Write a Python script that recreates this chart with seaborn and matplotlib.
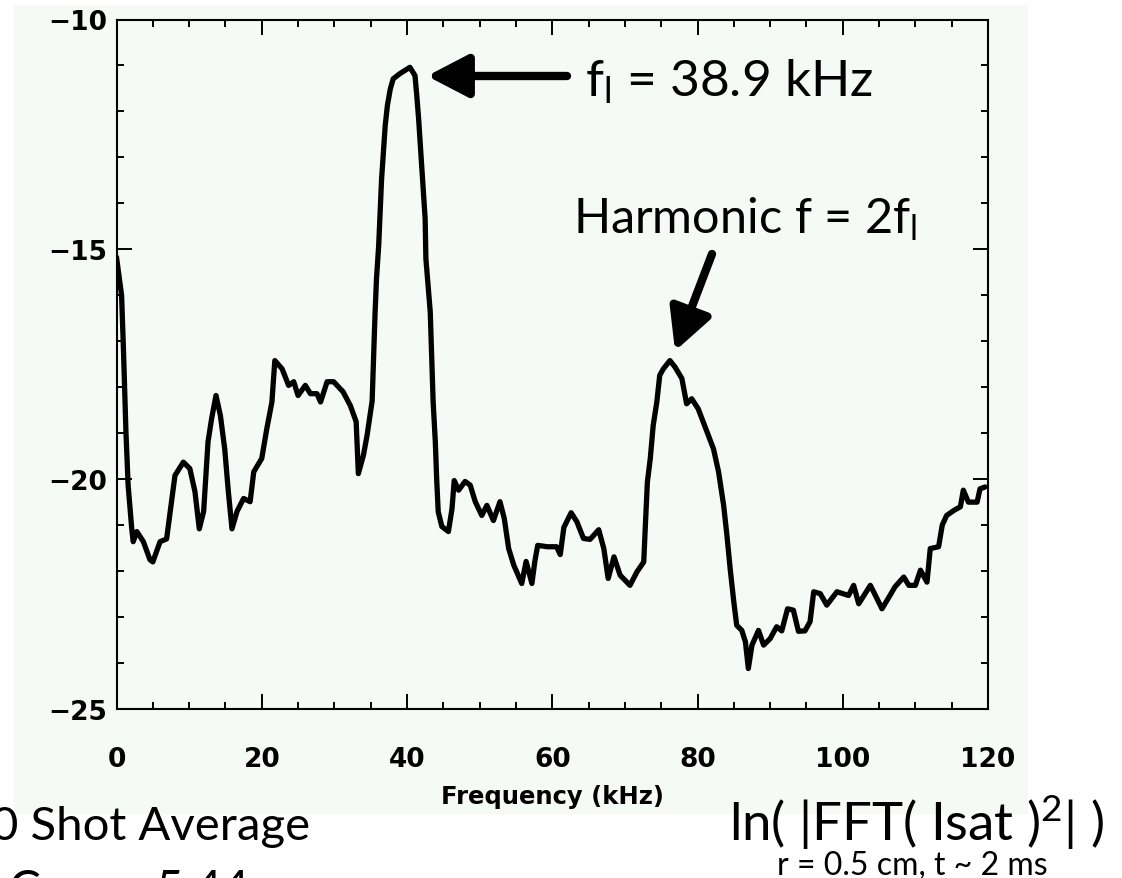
import matplotlib
matplotlib.use("Agg")
import matplotlib.pyplot as plt
import seaborn as sns
import pandas as pd
from matplotlib.patches import Rectangle, FancyArrowPatch
from matplotlib.ticker import MultipleLocator

# ---------------- data ----------------
freq_khz = [0.0, 0.7, 0.94, 1.3, 1.6, 2.1, 2.3, 2.8, 3.7, 4.6, 5.0, 6.0, 6.9, 7.4, 8.05,
            9.2, 10.1, 10.8, 11.4, 12.0, 12.6, 13.1, 13.7, 14.3, 14.9, 15.4, 15.9, 16.6,
            17.5, 18.4, 18.9, 20.0, 20.7, 21.4, 21.8, 22.8, 23.7, 24.4, 25.0, 26.0, 26.7,
            27.6, 28.1, 29.0, 29.9, 31.2, 32.2, 33.0, 33.3, 34.0, 34.5, 35.2, 35.6, 35.8,
            36.1, 36.3, 36.5, 36.75, 37.0, 37.3, 37.7, 38.1, 39.0, 40.0, 40.4, 41.1, 41.35,
            41.6, 41.9, 42.2, 42.5, 42.6, 42.9, 43.2, 43.4, 43.6, 43.9, 44.1, 44.3, 44.8,
            45.7, 46.2, 46.5, 47.1, 48.0, 48.7, 49.4, 50.3, 51.0, 51.9, 52.8, 53.4, 54.0,
            54.7, 55.8, 56.4, 57.2, 57.6, 58.0, 59.3, 60.6, 61.1, 61.6, 62.6, 63.4, 64.3,
            65.2, 66.4, 67.1, 67.7, 68.5, 69.35, 70.7, 71.65, 72.6, 72.8, 73.1, 73.5, 73.9,
            74.4, 74.8, 75.3, 76.2, 76.9, 77.85, 78.5, 79.2, 80.1, 81.3, 82.2, 82.9, 83.6,
            84.05, 84.5, 85.0, 85.4, 86.1, 86.6, 87.0, 87.5, 88.4, 89.1, 90.0, 90.9, 91.6,
            92.4, 93.2, 93.9, 94.8, 95.5, 96.0, 96.9, 97.8, 99.2, 100.8, 101.5, 102.2,
            103.8, 104.5, 105.4, 106.5, 107.2, 108.4, 109.1, 110.0, 110.7, 111.6, 112.05,
            113.2, 113.7, 114.3, 115.3, 116.2, 116.6, 117.3, 118.5, 118.9, 119.6]
ln_power = [-15.17, -16.0, -17.09, -18.97, -20.13, -21.08, -21.36, -21.14, -21.36, -21.75,
            -21.8, -21.36, -21.3, -20.7, -19.92, -19.63, -19.77, -20.27, -21.08, -20.7,
            -19.19, -18.68, -18.18, -18.61, -19.34, -20.27, -21.08, -20.7, -20.42, -20.49,
            -19.84, -19.55, -18.9, -18.32, -17.42, -17.6, -17.96, -17.88, -18.18, -17.96,
            -18.14, -18.14, -18.32, -17.88, -17.88, -18.1, -18.4, -18.75, -19.88, -19.48,
            -19.05, -18.3, -16.4, -15.64, -14.92, -14.19, -13.47, -12.89, -12.31, -11.87,
            -11.51, -11.29, -11.18, -11.08, -11.04, -11.22, -11.66, -12.16, -12.89, -13.61,
            -14.34, -15.2, -15.79, -16.36, -17.31, -18.32, -19.19, -20.05, -20.71, -21.03,
            -21.14, -20.64, -20.03, -20.24, -20.05, -20.13, -20.49, -20.79, -20.57, -20.9,
            -20.49, -20.86, -21.51, -21.87, -22.27, -21.79, -22.27, -21.79, -21.44, -21.47,
            -21.47, -21.64, -21.05, -20.73, -20.93, -21.29, -21.31, -21.1, -21.51, -22.16,
            -21.69, -22.09, -22.31, -22.02, -21.8, -21.08, -20.06, -19.55, -18.83, -18.32,
            -17.74, -17.6, -17.42, -17.56, -17.81, -18.36, -18.25, -18.47, -18.97, -19.34,
            -19.84, -20.57, -21.22, -21.95, -22.67, -23.18, -23.29, -23.54, -24.12, -23.61,
            -23.29, -23.61, -23.47, -23.21, -23.3, -22.82, -22.85, -23.31, -23.3, -23.1,
            -22.45, -22.49, -22.74, -22.45, -22.53, -22.31, -22.71, -22.31, -22.53, -22.82,
            -22.53, -22.34, -22.13, -22.31, -22.31, -21.98, -22.24, -21.51, -21.47, -21.0,
            -20.79, -20.68, -20.6, -20.24, -20.5, -20.5, -20.21, -20.17]

x_ticks = [0, 20, 40, 60, 80, 100, 120]
y_ticks = [-25, -20, -15, -10]
x_label = "Frequency (kHz)"
peak_text = r"f$_{\mathrm{l}}$ = 38.9 kHz"
harm_text = r"Harmonic f = 2f$_{\mathrm{l}}$"
quantity_text = r"ln( |FFT( Isat )$^{\mathrm{2}}$| )"
cond_text = "r = 0.5 cm, t ~ 2 ms"
avg_text = "0 Shot Average"
len_text = "rC  =  = 5.44 m"

# ---------------- figure ----------------
W, H = 1122, 879
sns.set_theme(style="ticks")
plt.rcParams["font.family"] = ["DejaVu Sans"]
plt.rcParams["mathtext.fontset"] = "custom"
plt.rcParams["mathtext.rm"] = "Lato"
plt.rcParams["mathtext.it"] = "Lato:italic"
plt.rcParams["mathtext.bf"] = "Lato:bold"

panel = "#f5faf6"
fig = plt.figure(figsize=(W / 100, H / 100), dpi=100, facecolor="white")


def fx(x):
    return x / W


def fy(y):
    return 1 - y / H


bg = Rectangle((fx(14), fy(815)), (1028 - 14) / W, (815 - 6) / H,
               transform=fig.transFigure, facecolor=panel,
               edgecolor="none", zorder=-10)
fig.patches.append(bg)

ax = fig.add_axes([fx(116.5), fy(710), (988 - 116.5) / W, (710 - 20.5) / H])
ax.set_zorder(1)
ax.set_facecolor(panel)

df = pd.DataFrame({"freq": freq_khz, "lnp": ln_power})
sns.lineplot(data=df, x="freq", y="lnp", ax=ax, color="black", lw=3.8,
             estimator=None, sort=False)

ax.set_xlim(0, 120)
ax.set_ylim(-25, -10)
ax.set_xticks(x_ticks)
ax.set_yticks(y_ticks)
ax.set_xticklabels([str(t) for t in x_ticks], fontweight="bold")
ax.set_yticklabels(["\u2212" + str(abs(t)) for t in y_ticks], fontweight="bold")
ax.xaxis.set_minor_locator(MultipleLocator(5))
ax.yaxis.set_minor_locator(MultipleLocator(1))
ax.tick_params(which="both", direction="in", top=True, right=True,
               color="black", width=1.4)
ax.tick_params(which="major", length=11)
ax.tick_params(which="minor", length=5)
ax.tick_params(axis="x", which="major", pad=27, labelsize=19, labelcolor="black")
ax.tick_params(axis="y", which="major", pad=7, labelsize=19, labelcolor="black")
for s in ax.spines.values():
    s.set_color("black")
    s.set_linewidth(1.5)
ax.set_xlabel(x_label, fontsize=17.5, fontweight="bold", labelpad=8, color="black")
ax.set_ylabel("")

# ---------------- annotations ----------------
arrow_style = "-|>,head_length=1.25,head_width=0.65"
for tail, tip in [((567, 77), (427, 77)), ((712, 255), (675, 352))]:
    fig.add_artist(FancyArrowPatch(
        (fx(tail[0]), fy(tail[1])), (fx(tip[0]), fy(tip[1])),
        transform=fig.transFigure, arrowstyle=arrow_style, mutation_scale=20,
        lw=6, color="black", shrinkA=0, shrinkB=0, zorder=5))

lato = ["Lato", "DejaVu Sans"]
fig.text(fx(585), fy(96), peak_text, fontsize=37, family=lato, va="baseline",
         ha="left", color="black", zorder=6)
fig.text(fx(573), fy(234), harm_text, fontsize=35, family=lato, va="baseline",
         ha="left", color="black", zorder=6)
fig.text(fx(1104), fy(841), quantity_text, fontsize=38, family=lato,
         va="baseline", ha="right", color="black", zorder=6)
fig.text(fx(912), fy(875), cond_text, fontsize=23, family=lato,
         va="baseline", ha="center", color="black", zorder=6)
fig.text(fx(310), fy(840), avg_text, fontsize=34, family=lato,
         va="baseline", ha="right", color="black", zorder=6)
fig.text(fx(300), fy(903), len_text, fontsize=34, family=lato,
         va="baseline", ha="right", color="black", zorder=6)

fig.savefig("out.png", dpi=100, facecolor="white")
